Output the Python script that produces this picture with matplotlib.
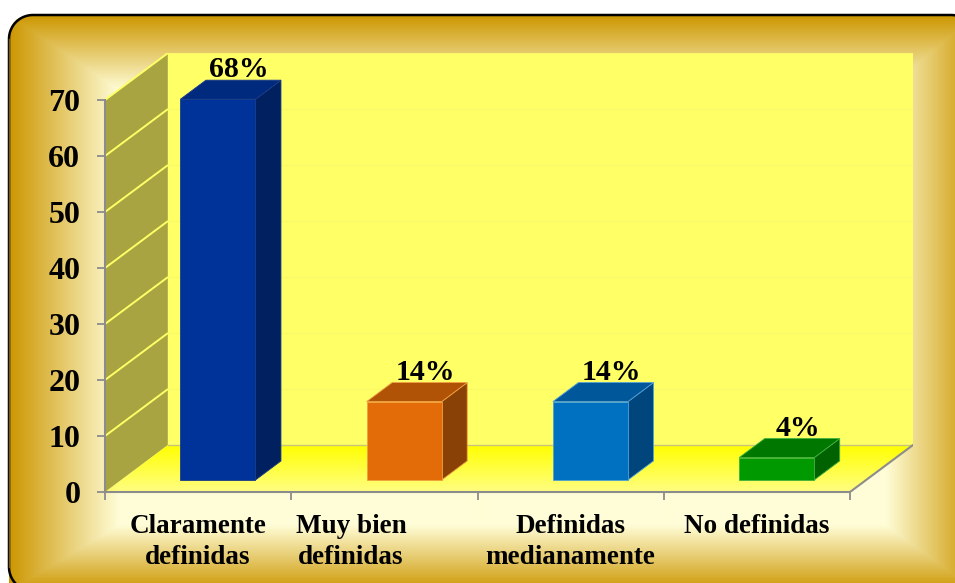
import numpy as np
import matplotlib
matplotlib.use("Agg")
import matplotlib.pyplot as plt
from matplotlib.patches import Polygon, FancyBboxPatch

# ---- data ----
categories = ["Claramente\ndefinidas", "Muy bien\ndefinidas",
              "Definidas\nmedianamente", "No definidas"]
values = [68, 14, 14, 4]
value_labels = ["68%", "14%", "14%", "4%"]
y_ticks = [0, 10, 20, 30, 40, 50, 60, 70]

# ---- styles ----
front_colors = ["#003399", "#E36C09", "#0070C0", "#009A00"]
top_colors = ["#002A7E", "#B05307", "#00589A", "#007800"]
side_colors = ["#002060", "#8A4105", "#00467C", "#006200"]
edge_colors = ["#1A3A8A", "#F0A040", "#4FA0D8", "#40B040"]
label_nudge = [0.0, -0.18, 0.0, 0.0]

FONT = dict(family="Liberation Serif", weight="bold")
GRAY = "#8C8C8C"

W, H = 955, 583
fig = plt.figure(figsize=(W / 100, H / 100), dpi=100)

# ---- golden frame with soft rectangular gradient ----
bg = fig.add_axes([0, 0, 1, 1])
bg.axis("off")
yy, xx = np.mgrid[0:H, 0:W] + 0.5
fx0, fy0, fx1, fy1 = 9, 15, 975, 591
R = 24
t = np.minimum.reduce([(xx - fx0) / 110, (fx1 - xx) / 90,
                       (yy - fy0) / 75, (fy1 - yy) / 66])
t = np.clip(t, 0, 1)
gold = np.array([204, 150, 0]) / 255
light = np.array([255, 253, 215]) / 255
img = gold + (light - gold) * t[..., None]
im = bg.imshow(img, extent=(0, W, H, 0), interpolation="bilinear", aspect="auto")
clip_box = FancyBboxPatch((fx0, fy0), fx1 - fx0, 700,
                          boxstyle=f"round,pad=0,rounding_size={R}",
                          fc="none", ec="none", transform=bg.transData)
bg.add_patch(clip_box)
im.set_clip_path(clip_box)
bg.set_xlim(0, W)
bg.set_ylim(H, 0)

# black outline: top edge, rounded top corners, left edge, lower-left corner
def arc(cx, cy, a0, a1, n=30):
    a = np.radians(np.linspace(a0, a1, n))
    return cx + R * np.cos(a), cy + R * np.sin(a)

ax1, ay1 = arc(fx0 + R, fy0 + R, 180, 270)       # top-left corner
ax2, ay2 = arc(fx1 - R, fy0 + R, 270, 360)       # top-right corner
ax3, ay3 = arc(fx0 + R, fy1 - R, 180, 110)       # lower-left corner
bg.plot(np.r_[ax3[::-1], ax1, ax2], np.r_[ay3[::-1], ay1, ay2],
        color="black", lw=1.8, solid_capstyle="butt")
bg.plot([fx0, fx0], [fy0 + R, fy1 - R], color="#6b5a30", lw=1.0)
bg.set_xlim(0, W)
bg.set_ylim(H, 0)

# ---- 3D-style plot box ----
XS, YS = 186.25, 5.6          # pixels per category / per unit
DX, DY = 63 / XS, 47 / YS     # depth offset in data units
NC = len(categories)
YMAX = y_ticks[-1]

ax = fig.add_axes([105 / W, (H - 492) / H, (NC * XS + 63) / W, (YMAX * YS + 47) / H])
ax.set_xlim(0, NC + DX)
ax.set_ylim(0, YMAX + DY)
ax.patch.set_visible(False)

# back wall
ax.add_patch(Polygon([(DX, DY), (NC + DX, DY), (NC + DX, YMAX + DY + 0.5),
                      (DX, YMAX + DY + 0.5)], closed=True, fc="#FFFF66",
                     ec="none", zorder=0.5))
for k in y_ticks[1:]:
    ax.plot([DX, NC + DX], [k + DY, k + DY], color="#F8F868", lw=0.8, zorder=0.6)

# side wall with gridlines
ax.add_patch(Polygon([(0, 0), (DX, DY), (DX, YMAX + DY), (0, YMAX)], closed=True,
                     fc="#A8A442", ec="none", zorder=0.7))
for k in y_ticks[1:]:
    ax.plot([0, DX], [k, k + DY], color="#FFFF66", lw=1.4, zorder=0.8,
            solid_capstyle="butt")
ax.plot([DX, DX], [DY, YMAX + DY], color="#FFFF66", lw=1.0, zorder=0.8)

# floor with a yellow gradient fading toward the front
floor = Polygon([(0, 0), (NC, 0), (NC + DX, DY), (DX, DY)], closed=True,
                fc="none", ec="none")
ax.add_patch(floor)
n = 64
grad = np.zeros((n, 1, 4))
grad[..., 0] = 1.0
grad[..., 1] = 1.0
grad[..., 2] = 0.0
grad[:, 0, 3] = np.linspace(1.0, 0.4, n)
fim = ax.imshow(grad, extent=(0, NC + DX, 0, DY), origin="upper",
                aspect="auto", interpolation="bilinear", zorder=0.9)
fim.set_clip_path(floor)
ax.set_xlim(0, NC + DX)
ax.set_ylim(0, YMAX + DY)

ax.plot([DX, NC + DX], [DY, DY], color="#C8C47A", lw=1.0, zorder=1.0)
ax.plot([NC, NC + DX], [0, DY], color=GRAY, lw=1.5, zorder=1.0)

# bars
f0, f1 = 0.255, 0.66
bw = 0.403
for i, v in enumerate(values):
    c = i + 0.52
    x0, x1 = c - bw / 2, c + bw / 2
    a0x, a0y = f0 * DX, f0 * DY
    a1x, a1y = f1 * DX, f1 * DY
    ec = edge_colors[i]
    ax.add_patch(Polygon([(x1 + a0x, a0y), (x1 + a1x, a1y), (x1 + a1x, v + a1y),
                          (x1 + a0x, v + a0y)], closed=True, fc=side_colors[i],
                         ec=ec, lw=0.6, zorder=3))
    ax.add_patch(Polygon([(x0 + a0x, v + a0y), (x1 + a0x, v + a0y),
                          (x1 + a1x, v + a1y), (x0 + a1x, v + a1y)], closed=True,
                         fc=top_colors[i], ec=ec, lw=0.6, zorder=3))
    ax.add_patch(Polygon([(x0 + a0x, a0y), (x1 + a0x, a0y), (x1 + a0x, v + a0y),
                          (x0 + a0x, v + a0y)], closed=True, fc=front_colors[i],
                         ec=ec, lw=0.6, zorder=3.1))
    ax.annotate(value_labels[i], xy=(c + a1x, v + a1y), xytext=(-3, 2),
                textcoords="offset points", ha="center", va="baseline",
                fontsize=21.5, color="black", zorder=5, annotation_clip=False,
                **FONT)

# axes lines and ticks
for s in ("top", "right"):
    ax.spines[s].set_visible(False)
for s in ("left", "bottom"):
    ax.spines[s].set_color(GRAY)
    ax.spines[s].set_linewidth(1.5)
    ax.spines[s].set_zorder(2)
ax.spines["left"].set_bounds(0, YMAX)
ax.spines["bottom"].set_bounds(0, NC)

ax.set_yticks(y_ticks)
ax.set_yticklabels([str(v) for v in y_ticks], fontsize=23, **FONT)
ax.tick_params(axis="y", direction="out", length=5.8, width=1.3, color=GRAY, pad=12)
ax.set_xticks(range(NC + 1))
ax.set_xticklabels([""] * (NC + 1))
ax.tick_params(axis="x", direction="out", length=5.8, width=1.3, color=GRAY)

for i, lab in enumerate(categories):
    ax.annotate(lab, xy=(i + 0.5 + label_nudge[i], 0), xytext=(0, -16),
                textcoords="offset points", ha="center", va="top",
                fontsize=19.5, linespacing=1.3, annotation_clip=False, **FONT)

fig.savefig("out.png", dpi=100)
